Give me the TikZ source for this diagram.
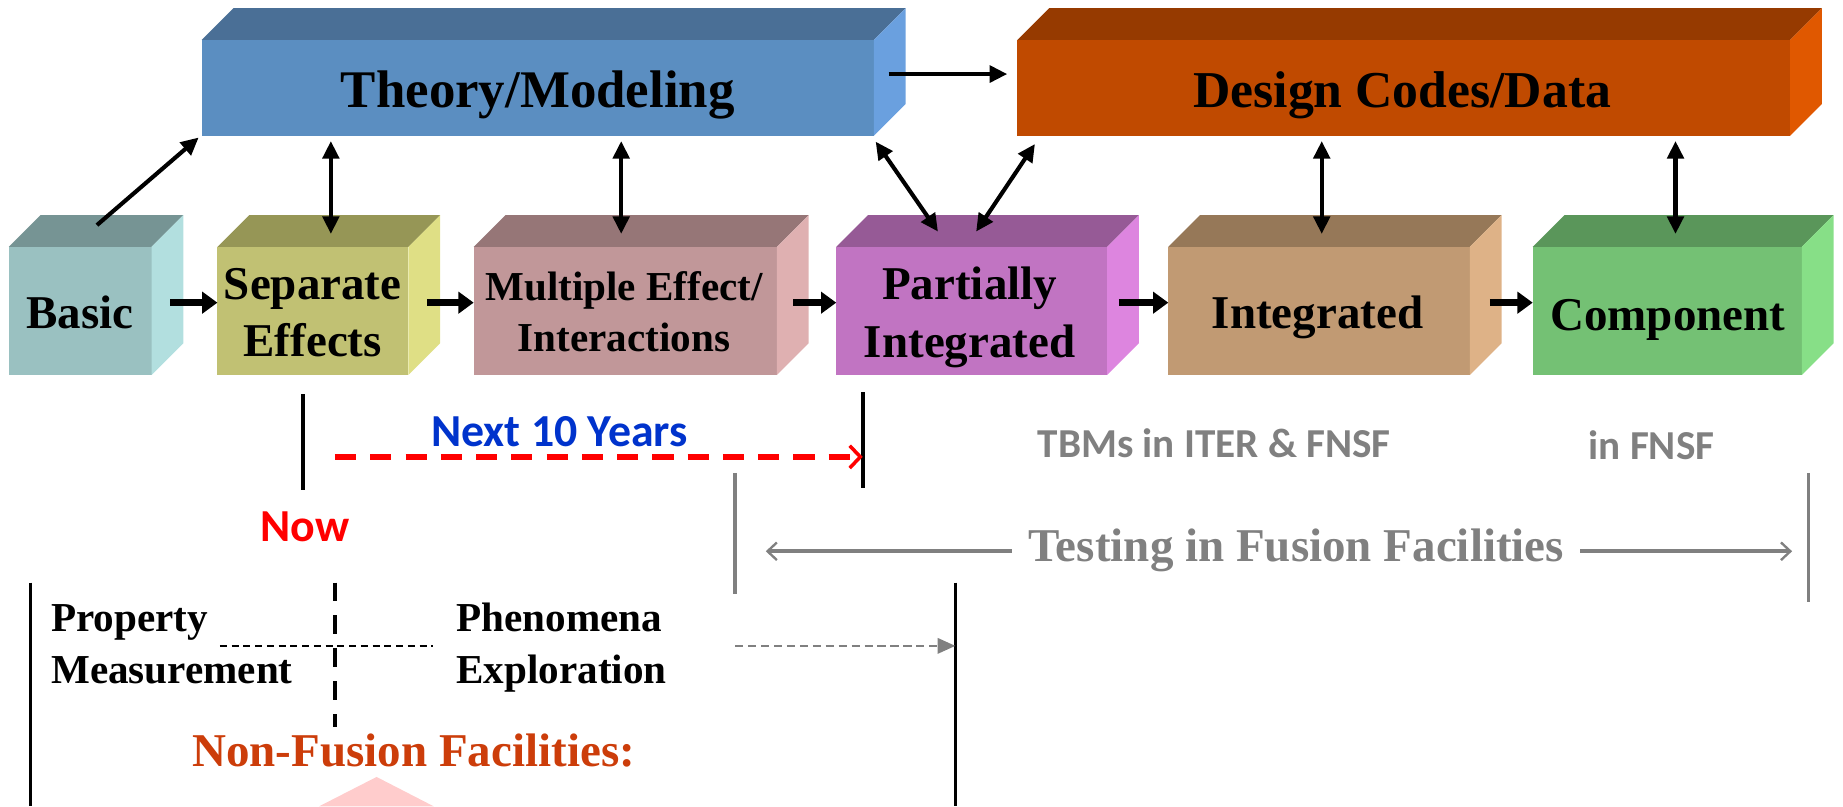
\documentclass[tikz,border=0pt]{standalone}
\usepackage{fontspec}
\setmainfont{Liberation Serif}
\newfontfamily\calfont{Carlito}
\usetikzlibrary{arrows.meta,calc}
\definecolor{thF}{HTML}{5B8EC1}\definecolor{thT}{HTML}{4A6F96}\definecolor{thS}{HTML}{6AA0DF}
\definecolor{dcF}{HTML}{C04A00}\definecolor{dcT}{HTML}{963A00}\definecolor{dcS}{HTML}{E05800}
\definecolor{baF}{HTML}{9AC1C1}\definecolor{baT}{HTML}{769494}\definecolor{baS}{HTML}{B2DFDF}
\definecolor{seF}{HTML}{C1C173}\definecolor{seT}{HTML}{969656}\definecolor{seS}{HTML}{DFDF85}
\definecolor{muF}{HTML}{C19799}\definecolor{muT}{HTML}{967677}\definecolor{muS}{HTML}{DFB0B1}
\definecolor{paF}{HTML}{C174C2}\definecolor{paT}{HTML}{965A96}\definecolor{paS}{HTML}{DD85DF}
\definecolor{inF}{HTML}{C19A73}\definecolor{inT}{HTML}{967858}\definecolor{inS}{HTML}{DEB287}
\definecolor{coF}{HTML}{74C174}\definecolor{coT}{HTML}{5A965A}\definecolor{coS}{HTML}{87DF87}
\definecolor{grayc}{HTML}{808080}
\definecolor{bluec}{HTML}{0033CC}
\definecolor{nfc}{HTML}{CC3D0A}
\definecolor{pinkc}{HTML}{FFCCCC}
\newcommand\cubeshade[3]{%
  \fill[#2] (#1.north west) -- ++(27,-27) -- ($(#1.north east)+(27,-27)$) -- (#1.north east) -- cycle;
  \fill[#3] (#1.north east) -- ($(#1.north east)+(27,-27)$) -- ($(#1.south east)+(27,-27)$) -- (#1.south east) -- cycle;}
\tikzset{
  face/.style={inner sep=0pt, outer sep=0pt, draw=none},
  lowface/.style={face, minimum height=109pt},
  highface/.style={face, minimum height=81.5pt},
  boxtext/.style={font=\bfseries\fontsize{40}{48}\selectfont, align=center, inner sep=0pt},
  bigtext/.style={font=\bfseries\fontsize{45}{54}\selectfont, inner sep=0pt, anchor=base},
  thickarr/.style={line width=6pt, -{Triangle[length=13pt,width=18pt]}},
  thinarr/.style={line width=3.5pt, -{Triangle[length=15pt,width=14pt]}},
  dblarr/.style={line width=3.5pt, {Triangle[length=15pt,width=14pt]}-{Triangle[length=15pt,width=14pt]}},
  sanstext/.style={font=\calfont\bfseries\fontsize{39}{46}\selectfont, inner sep=0pt, anchor=base},
  graysans/.style={font=\calfont\bfseries\fontsize{35}{42}\selectfont, inner sep=0pt, anchor=base, text=grayc},
  serif35/.style={font=\bfseries\fontsize{35}{44.5}\selectfont, inner sep=0pt, align=left, anchor=west},
  vblack/.style={line width=3pt, black},
  vgray/.style={line width=3pt, grayc},
  grayarr/.style={grayc, line width=3.5pt, -{Straight Barb[length=8pt,width=15pt,line width=2pt]}},
}
\begin{document}
\begin{tikzpicture}[x=1pt,y=-1pt]
\useasboundingbox (0,0) rectangle (1568,686);
\clip (0,0) rectangle (1568,686);
% top boxes
\node[highface, fill=thF, minimum width=572pt] (theory) at (457.5,74.75) {};
\cubeshade{theory}{thT}{thS}
\node[highface, fill=dcF, minimum width=657.5pt] (design) at (1194.25,74.75) {};
\cubeshade{design}{dcT}{dcS}
\node[bigtext] (theoryt) at (457.5,91.3) {Theory/Modeling};
\node[bigtext, font=\bfseries\fontsize{44}{52}\selectfont] (designt) at (1193,91.3) {Design Codes/Data};
% lower boxes
\node[lowface, fill=baF, minimum width=121.5pt] (basic) at (68.25,264.5) {};
\cubeshade{basic}{baT}{baS}
\node[lowface, fill=seF, minimum width=162.5pt] (sep) at (266.25,264.5) {};
\cubeshade{sep}{seT}{seS}
\node[lowface, fill=muF, minimum width=258pt] (mult) at (532,264.5) {};
\cubeshade{mult}{muT}{muS}
\node[lowface, fill=paF, minimum width=230.5pt] (part) at (826.75,264.5) {};
\cubeshade{part}{paT}{paS}
\node[lowface, fill=inF, minimum width=256.5pt] (integ) at (1122.25,264.5) {};
\cubeshade{integ}{inT}{inS}
\node[lowface, fill=coF, minimum width=229pt] (comp) at (1418.5,264.5) {};
\cubeshade{comp}{coT}{coS}
\node[boxtext, anchor=base] (basict) at (68,279.4) {Basic};
\node[boxtext] (sept) at (266,266) {Separate\\Effects};
\node[boxtext, font=\bfseries\fontsize{35}{44}\selectfont] (multt) at (531,265.3) {Multiple Effect/\\Interactions};
\node[boxtext, font=\bfseries\fontsize{40}{49}\selectfont] (partt) at (825,270) {Partially\\Integrated};
\node[boxtext, anchor=base] (integt) at (1121,279.4) {Integrated};
\node[boxtext, anchor=base] (compt) at (1419,281) {Component};
% horizontal thick arrows
\draw[thickarr] ($(basic.east)+(16,-7)$) -- ($(sep.west)+(0,-7)$);
\draw[thickarr] ($(sep.east)+(16,-7)$) -- ($(mult.west)+(0,-7)$);
\draw[thickarr] ($(mult.east)+(14,-7)$) -- ($(part.west)+(0,-7)$);
\draw[thickarr] ($(part.east)+(10,-7)$) -- ($(integ.west)+(0,-7)$);
\draw[thickarr] ($(integ.east)+(17,-7)$) -- ($(comp.west)+(0,-7)$);
% arrows to top boxes
\draw[thinarr] ($(basic.north)+(14.25,-18.5)$) -- ($(theory.south west)+(-2.5,1.5)$);
\coordinate (sepc) at ($(sep.north)+(15.25,-11)$);
\coordinate (multc) at ($(mult.north)+(-3.5,-11)$);
\coordinate (integc) at ($(integ.north)+(2.25,-11)$);
\coordinate (compc) at ($(comp.north)+(7,-11)$);
\draw[dblarr, shorten >=4.5pt] (sepc) -- (sepc |- theory.south);
\draw[dblarr, shorten >=4.5pt] (multc) -- (multc |- theory.south);
\draw[dblarr, shorten >=4.5pt] (integc) -- (integc |- design.south);
\draw[dblarr, shorten >=4.5pt] (compc) -- (compc |- design.south);
\draw[dblarr] ($(theory.south east)+(1.5,5)$) -- ($(part.north)+(-28.75,-13)$);
\draw[dblarr] ($(part.north)+(3.75,-13)$) -- ($(design.south west)+(15,7)$);
\draw[thinarr, line width=4pt] ($(theory.east)+(12.5,-11.75)$) -- ($(design.west)+(-8.5,-11.75)$);
% time line
\coordinate (nowA) at (258,335.3);
\coordinate (nowB) at (258,416.5);
\coordinate (tenA) at (734,333.6);
\coordinate (tenB) at (734,414.8);
\draw[vblack] (nowA) -- (nowB);
\draw[vblack] (tenA) -- (tenB);
\coordinate (redA) at (285,388.7);
\draw[red, line width=4.5pt, dash pattern=on 18pt off 12pt, -{Straight Barb[length=9pt,width=19pt,line width=3pt]}] (redA) -- (redA -| tenA);
\node[sanstext, text=bluec] (next) at (476,380) {Next 10 Years};
\node[sanstext, text=red] (now) at (259.6,461) {Now};
% fusion testing
\node[graysans] (tbms) at (1033,389) {TBMs in ITER \& FNSF};
\node[graysans] (infnsf) at (1405,391) {in FNSF};
\coordinate (gA) at (625.5,402.3);
\coordinate (gB) at (625.5,505);
\coordinate (gC) at (1538.7,402.3);
\coordinate (gD) at (1538.7,512);
\draw[vgray] (gA) -- (gB);
\draw[vgray] (gC) -- (gD);
\node[font=\bfseries\fontsize{40}{48}\selectfont, text=grayc, inner sep=0pt, anchor=base] (testing) at (1103,478) {Testing in Fusion Facilities};
\coordinate (tLs) at ($(testing.base west)+(-14.5,-9)$);
\coordinate (tLe) at ($(gA |- testing.base)+(26,-9)$);
\coordinate (tRs) at ($(testing.base east)+(13.5,-9)$);
\coordinate (tRe) at ($(gC |- testing.base)+(-14,-9)$);
\draw[grayarr] (tLs) -- (tLe);
\draw[grayarr] (tRs) -- (tRe);
% non-fusion
\coordinate (bA) at (26,495.6);
\coordinate (bB) at (26,686);
\coordinate (bC) at (812.8,495.6);
\coordinate (bD) at (812.8,686);
\draw[vblack] (bA) -- (bB);
\draw[vblack] (bC) -- (bD);
\coordinate (dA) at (285,495.6);
\coordinate (dB) at (285,618.4);
\draw[black, line width=3pt, dash pattern=on 15.6pt off 12.4pt] (dA) -- (dB);
\node[serif35] (prop) at (43.4,548) {Property\\Measurement};
\node[serif35] (phen) at (388,551) {Phenomena\\Exploration};
\coordinate (hA) at (187,549.5);
\coordinate (hB) at (368,549.5);
\draw[black, line width=1.5pt, dash pattern=on 6pt off 4pt] (hA) -- (hB);
\coordinate (gdA) at (625.5,549.5);
\draw[grayc, line width=2pt, dash pattern=on 7pt off 4pt, -{Triangle[length=15pt,width=13pt]}] (gdA) -- (gdA -| bC);
\node[font=\bfseries\fontsize{40}{48}\selectfont, text=nfc, inner sep=0pt, anchor=base] (nonfus) at (352,652.5) {Non-Fusion Facilities:};
\fill[pinkc] (271.5,686) -- (320.4,661) -- (369,686) -- cycle;
\end{tikzpicture}
\end{document}
